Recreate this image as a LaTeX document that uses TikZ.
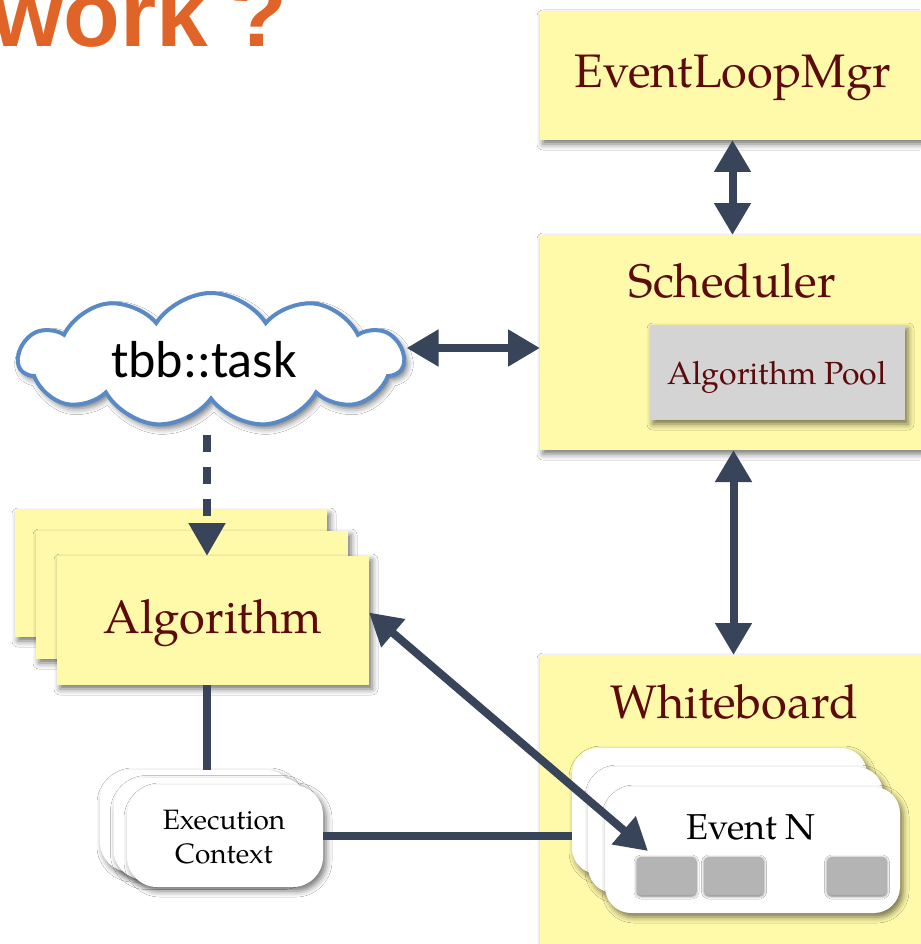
\documentclass[tikz,border=0pt]{standalone}
\usepackage{fontspec}
\newfontfamily\carlitofont{Carlito}
\newfontfamily\headfont{Liberation Sans}
\newfontfamily\palfont{texgyrepagella-regular.otf}
\usetikzlibrary{arrows.meta,shapes.symbols,shadows.blur}
\definecolor{boxyellow}{RGB}{255,249,170}
\definecolor{maroon}{RGB}{92,10,10}
\definecolor{arrowc}{RGB}{55,68,89}
\definecolor{cloudblue}{RGB}{90,138,198}
\definecolor{poolgray}{RGB}{212,212,212}
\definecolor{slotgray}{RGB}{180,180,180}
\definecolor{headorange}{RGB}{224,100,40}
\tikzset{
  shad/.style={blur shadow={shadow xshift=3pt, shadow yshift=-4pt, shadow blur radius=6pt, shadow opacity=55}},
  bigbox/.style={draw=none, fill=boxyellow, shad, inner sep=0pt, outer sep=0pt},
  bigtext/.style={text=maroon, font=\palfont\fontsize{47}{56}\selectfont, inner sep=0pt},
  card/.style={draw=none, fill=white, shad, rounded corners=26pt, inner sep=0pt, outer sep=0pt},
  slot/.style={draw=none, fill=slotgray, rounded corners=4pt, minimum width=59pt, minimum height=38pt,
    blur shadow={shadow xshift=0pt, shadow yshift=-1pt, shadow blur radius=3pt, shadow opacity=60}},
  conn/.style={draw=arrowc, line width=8pt},
  dbl/.style={conn, {Triangle[length=32pt,width=35pt]}-{Triangle[length=32pt,width=35pt]}},
}
\begin{document}
\begin{tikzpicture}[x=1pt,y=-1pt]
\useasboundingbox (0,0) rectangle (920,944);
\fill[white] (0,0) rectangle (920,944);

% title fragment
\node[anchor=base west, inner sep=0pt, text=headorange, font=\headfont\bfseries\fontsize{93}{98}\selectfont] (title) at (-9,47) {work\hspace{-4pt} ?};

% right column boxes
\node[bigbox, minimum width=385pt, minimum height=128pt] (elm) at (732.5,76) {};
\node[bigtext] (elmt) at (733,78) {EventLoopMgr};

\node[bigbox, minimum width=385pt, minimum height=215pt] (sched) at (732.5,342.5) {};
\node[bigtext] (schedt) at (732,281) {Scheduler};
\node[draw=none, fill=poolgray, shad, minimum width=255pt, minimum height=95pt] (pool) at (777.5,372.5) {};
\node[text=maroon, font=\palfont\fontsize{32}{38}\selectfont, inner sep=0pt] (poolt) at (777,377) {Algorithm Pool};

\node[bigbox, minimum width=385pt, minimum height=310pt] (wb) at (732.5,810) {};
\node[bigtext] (wbt) at (734,702) {Whiteboard};

% cloud
\node[cloud, cloud puffs=11, cloud puff arc=115, aspect=2.8, draw=cloudblue, line width=4pt, fill=white, shad,
  minimum width=385pt, minimum height=134pt, inner sep=0pt] (cloud) at (211,360) {};
\node[font=\carlitofont\fontsize{52}{60}\selectfont, inner sep=0pt] (cloudt) at (204,360) {tbb::task};
\coordinate (axis) at (207,0);

% algorithm stack
\node[bigbox, minimum width=312pt, minimum height=127pt] (alg3) at (171,573.5) {};
\node[bigbox, minimum width=312pt, minimum height=128pt] (alg2) at (192,595) {};
\node[bigbox, minimum width=312pt, minimum height=129pt] (alg) at (213,620.5) {};
\node[bigtext] (algt) at (213,623) {Algorithm};

% execution context stack
\node[card, rounded corners=30pt, minimum width=196pt, minimum height=102pt] (ec3) at (198,821) {};
\node[card, rounded corners=30pt, minimum width=196pt, minimum height=102pt] (ec2) at (211.5,828.5) {};
\node[card, rounded corners=30pt, minimum width=196pt, minimum height=102pt] (ec) at (225,836) {};
\node[align=center, font=\palfont\fontsize{28}{34}\selectfont, inner sep=0pt] (ect) at (224,837) {Execution\\Context};

% connector algorithm - execution context
\draw[conn] (alg.south -| axis) -- (ec3.north -| axis);

% event stack
\node[card, minimum width=295pt, minimum height=126pt] (ev3) at (719.5,811) {};
% line execution context - event stack
\draw[conn] (ec.east) -- (ec.east -| ev3.west);
\node[card, minimum width=295pt, minimum height=126pt] (ev2) at (735.5,830) {};
\node[card, minimum width=295pt, minimum height=126pt] (ev) at (752.5,850) {};
\node[font=\palfont\fontsize{36}{42}\selectfont, inner sep=0pt] (evt) at (751,827) {Event N};
\node[slot] (s1) at (666.5,876) {};
\node[slot] (s2) at (734,876) {};
\node[slot] (s3) at (857,876) {};

% connectors
\draw[dbl] (elm.south) -- (sched.north);
\draw[dbl] ([xshift=1pt]sched.south) -- ([xshift=1pt]wb.north);
\draw[dbl] ([yshift=12pt]cloud.east) -- ([yshift=12pt]cloud.east -| sched.west);
\draw[conn, dash pattern=on 17pt off 15pt, shorten <=33pt, -{Triangle[length=33pt,width=35pt]}] (cloud.south -| axis) -- (alg.north -| axis);
\coordinate (evtip) at (648,851);
\draw[dbl] ([yshift=8pt]alg.east) -- (evtip);
\end{tikzpicture}
\end{document}
